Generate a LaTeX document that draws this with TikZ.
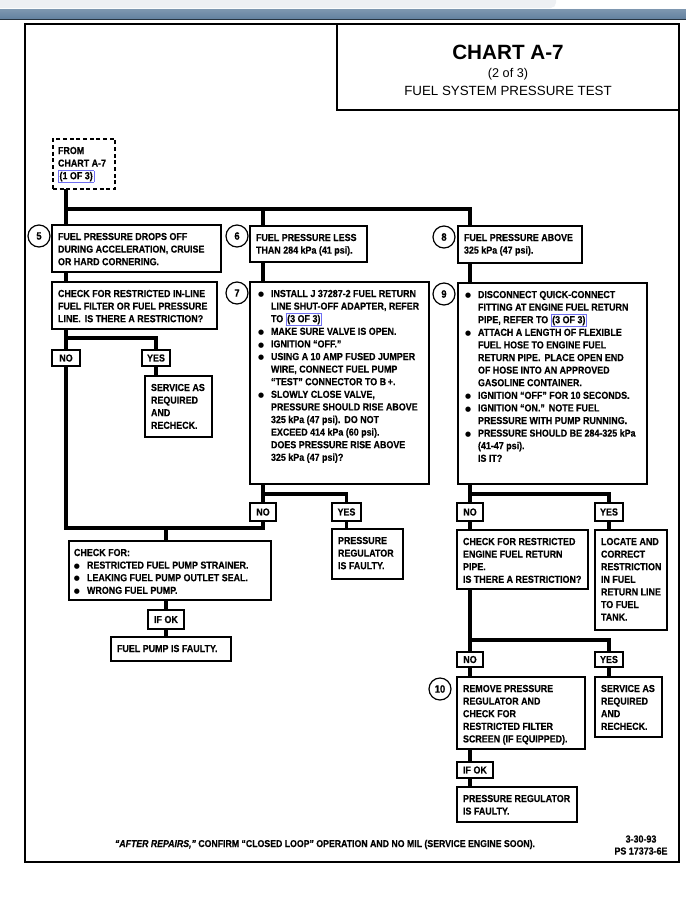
\documentclass[tikz,border=0pt]{standalone}
\usepackage{fontspec}
\setmainfont{Liberation Sans}[FakeStretch=0.88, BoldFeatures={FakeBold=0.35}, BoldItalicFeatures={FakeBold=0.35}]
\newfontfamily\widefont{Liberation Sans}
\newfontfamily\dejavu{DejaVu Sans}
\newdimen\pxu \pxu=0.75pt
\definecolor{linkblue}{HTML}{6F6FF2}
\definecolor{hdrgray}{HTML}{EEF0F3}
\definecolor{hdrblueA}{HTML}{7E97B0}
\definecolor{hdrblueB}{HTML}{6482A0}
\definecolor{hdrdark}{HTML}{27333F}
\newcommand\bodyfont{\fontsize{7.6pt}{9.45pt}\selectfont\bfseries}
\newcommand\tb[4][6]{\parbox[t][#3\pxu][t]{#2\pxu}{\bodyfont\raggedright\def\\{\hfil\break}\leftskip=#1\pxu\relax\rule{0pt}{11.25pt}#4}}
\newcommand\blf{\hangindent=9.75pt\hangafter=1\makebox[9.75pt][l]{\raisebox{0.2pt}{\dejavu\fontsize{5.2pt}{6pt}\selectfont ●}}}
\newcommand\bl{\par\blf}
\newcommand\lk[1]{{\fboxsep=0.6pt\fboxrule=0.55pt\color{linkblue}\fbox{\color{black}#1}}}
\newcommand\gap{\hspace{3pt}}
\tikzset{
  bx/.style={draw, line width=1.1pt, fill=white, inner sep=0pt, outer sep=0pt, anchor=north west},
  dbx/.style={bx, dash pattern=on 3pt off 2pt, line width=0.9pt},
  lbl/.style={draw, line width=1.1pt, fill=white, inner sep=0pt, outer sep=0pt, anchor=north west, font=\bodyfont},
  cnum/.style={circle, draw, line width=0.9pt, minimum size=16.5pt, inner sep=0pt, font=\fontsize{8pt}{8pt}\selectfont\bfseries},
  conn/.style={line width=2.3pt},
}
\begin{document}
\begin{tikzpicture}[x=0.75pt, y=-0.75pt]
\fill[white] (0,0) rectangle (686,901);
\useasboundingbox (0,0) rectangle (686,901);
% header strip
\fill[hdrgray, rounded corners=4pt] (-10,-10) rectangle (556,8);
\shade[top color=hdrblueA, bottom color=hdrblueB] (0,9) rectangle (686,18.5);
\fill[hdrdark] (0,18.5) rectangle (686,19.6);
% frame
\draw[line width=1.6pt] (25,24) rectangle (679,862);
\draw[line width=1.2pt] (337,24) |- (679,110);
\node[anchor=base, font=\widefont\fontsize{15.5pt}{16pt}\selectfont\bfseries] (t1) at (508,59) {CHART A-7};
\node[anchor=base, font=\widefont\fontsize{9.5pt}{10pt}\selectfont] (t2) at (508,77) {(2 of 3)};
\node[anchor=base, font=\widefont\fontsize{10pt}{11pt}\selectfont] (t3) at (508,95) {FUEL SYSTEM PRESSURE TEST};

% junction coordinates
\coordinate (xL) at (66,0);
\coordinate (xM) at (263,0);
\coordinate (xR) at (470,0);
\coordinate (xC) at (166,0);
\coordinate (J0) at (66,209);
\coordinate (J1) at (66,338);
\coordinate (J2) at (66,528);
\coordinate (J3) at (263,494);
\coordinate (J4) at (470,494);
\coordinate (J5) at (470,640);

% nodes
\node[dbx] (from) at (53,139) {\tb[5]{62}{50}{FROM\\CHART A-7\\\lk{(1 OF 3)}}};

\node[cnum] (c5) at (39,236) {5};
\node[bx] (b5) at (52,225) {\tb{169}{47}{FUEL PRESSURE DROPS OFF\\DURING ACCELERATION, CRUISE\\OR HARD CORNERING.}};
\node[bx] (chk1) at (52,282) {\tb{165}{47}{CHECK FOR RESTRICTED IN-LINE\\FUEL FILTER OR FUEL PRESSURE\\LINE.\gap IS THERE A RESTRICTION?}};
\node[lbl, minimum width=21pt, minimum height=12pt] (no1) at (52,350) {NO};
\node[lbl, minimum width=21pt, minimum height=12pt] (yes1) at (142,350) {YES};
\node[bx] (svc1) at (145,376) {\tb{67}{61}{SERVICE AS\\REQUIRED\\AND\\RECHECK.}};

\node[cnum] (c6) at (237,236) {6};
\node[bx] (b6) at (250,226) {\tb{117}{36}{FUEL PRESSURE LESS\\THAN 284 kPa (41 psi).}};
\node[cnum] (c7) at (237,293) {7};
\node[bx] (b7) at (250,282) {\tb[8]{179}{202}{\blf INSTALL J 37287-2 FUEL RETURN\\LINE SHUT-OFF ADAPTER, REFER\\TO \lk{(3 OF 3)}\bl MAKE SURE VALVE IS OPEN.\bl IGNITION “OFF.”\bl USING A 10 AMP FUSED JUMPER\\WIRE, CONNECT FUEL PUMP\\“TEST” CONNECTOR TO B\,+.\bl SLOWLY CLOSE VALVE,\\PRESSURE SHOULD RISE ABOVE\\325 kPa (47 psi).\gap DO NOT\\EXCEED 414 kPa (60 psi).\\DOES PRESSURE RISE ABOVE\\325 kPa (47 psi)?}};
\node[lbl, minimum width=19.5pt, minimum height=13.5pt] (no2) at (250,503) {NO};
\node[lbl, minimum width=21.75pt, minimum height=13.5pt] (yes2) at (332,503) {YES};
\node[bx] (preg1) at (332,529) {\tb{71}{50}{PRESSURE\\REGULATOR\\IS FAULTY.}};
\node[bx] (chk2) at (69,541) {\tb[5]{202}{59}{CHECK FOR:\bl RESTRICTED FUEL PUMP STRAINER.\bl LEAKING FUEL PUMP OUTLET SEAL.\bl WRONG FUEL PUMP.}};
\node[lbl, minimum width=27pt, minimum height=14.25pt] (ifok1) at (148,610) {IF OK};
\node[bx] (fpf) at (111,637) {\tb{120}{24}{FUEL PUMP IS FAULTY.}};

\node[cnum] (c8) at (444,237) {8};
\node[bx] (b8) at (458,226) {\tb{124}{37}{FUEL PRESSURE ABOVE\\325 kPa (47 psi).}};
\node[cnum] (c9) at (444,294) {9};
\node[bx] (b9) at (458,283) {\tb[7]{189}{201}{\blf DISCONNECT QUICK-CONNECT\\FITTING AT ENGINE FUEL RETURN\\PIPE, REFER TO \lk{(3 OF 3)}\bl ATTACH A LENGTH OF FLEXIBLE\\FUEL HOSE TO ENGINE FUEL\\RETURN PIPE.\gap PLACE OPEN END\\OF HOSE INTO AN APPROVED\\GASOLINE CONTAINER.\bl IGNITION “OFF” FOR 10 SECONDS.\bl IGNITION “ON.”\gap NOTE FUEL\\PRESSURE WITH PUMP RUNNING.\bl PRESSURE SHOULD BE 284-325 kPa\\(41-47 psi).\\IS IT?}};
\node[lbl, minimum width=19.5pt, minimum height=13.5pt] (no3) at (457,503) {NO};
\node[lbl, minimum width=21pt, minimum height=13.5pt] (yes3) at (595,503) {YES};
\node[bx] (chk3) at (457,530) {\tb{131}{59}{CHECK FOR RESTRICTED\\ENGINE FUEL RETURN\\PIPE.\\IS THERE A RESTRICTION?}};
\node[bx] (loc) at (595,530) {\tb{72}{100}{LOCATE AND\\CORRECT\\RESTRICTION\\IN FUEL\\RETURN LINE\\TO FUEL\\TANK.}};
\node[lbl, minimum width=19.5pt, minimum height=11.25pt] (no4) at (457,652) {NO};
\node[lbl, minimum width=21pt, minimum height=11.25pt] (yes4) at (595,652) {YES};
\node[cnum] (c10) at (440,689) {10};
\node[bx] (b10) at (457,677) {\tb{128}{72}{REMOVE PRESSURE\\REGULATOR AND\\CHECK FOR\\RESTRICTED FILTER\\SCREEN (IF EQUIPPED).}};
\node[bx] (svc2) at (595,677) {\tb{67}{60}{SERVICE AS\\REQUIRED\\AND\\RECHECK.}};
\node[lbl, minimum width=27pt, minimum height=12pt] (ifok2) at (457,762) {IF OK};
\node[bx] (preg2) at (457,787) {\tb{120}{35}{PRESSURE REGULATOR\\IS FAULTY.}};

% connectors
\draw[conn] (from.south -| xL) -- (b5.north -| xL);
\draw[conn] (J0) -| (b6.north -| xM);
\draw[conn] (J0) -| (b8.north -| xR);
\draw[conn] (b5.south -| xL) -- (chk1.north -| xL);
\draw[conn] (chk1.south -| xL) -- (no1.north -| xL);
\draw[conn] (J1) -| (yes1.north);
\draw[conn] (yes1.south) -- (svc1.north -| yes1.south);
\draw[conn] (no1.south -| xL) -- (J2) -| (no2.south);
\draw[conn] (J2 -| xC) -- (chk2.north -| xC);
\draw[conn] (chk2.south -| xC) -- (ifok1.north -| xC);
\draw[conn] (ifok1.south -| xC) -- (fpf.north -| xC);
\draw[conn] (b6.south -| xM) -- (b7.north -| xM);
\draw[conn] (b7.south -| xM) -- (no2.north -| xM);
\draw[conn] (J3) -| (yes2.north);
\draw[conn] (yes2.south) -- (preg1.north -| yes2.south);
\draw[conn] (b8.south -| xR) -- (b9.north -| xR);
\draw[conn] (b9.south -| xR) -- (no3.north -| xR);
\draw[conn] (J4) -| (yes3.north);
\draw[conn] (yes3.south) -- (loc.north -| yes3.south);
\draw[conn] (no3.south -| xR) -- (chk3.north -| xR);
\draw[conn] (chk3.south -| xR) -- (no4.north -| xR);
\draw[conn] (J5) -| (yes4.north);
\draw[conn] (yes4.south) -- (svc2.north -| yes4.south);
\draw[conn] (no4.south -| xR) -- (b10.north -| xR);
\draw[conn] (b10.south -| xR) -- (ifok2.north -| xR);
\draw[conn] (ifok2.south -| xR) -- (preg2.north -| xR);

% footer
\node[anchor=base, font=\fontsize{7.45pt}{9pt}\selectfont\bfseries] (foot) at (325,847) {\textit{“AFTER REPAIRS,”} CONFIRM “CLOSED LOOP” OPERATION AND NO MIL (SERVICE ENGINE SOON).};
\node[anchor=base, font=\bodyfont] (date) at (641,842.5) {3-30-93};
\node[anchor=base, font=\bodyfont] (ps) at (641,854.5) {PS 17373-6E};
\end{tikzpicture}
\end{document}
